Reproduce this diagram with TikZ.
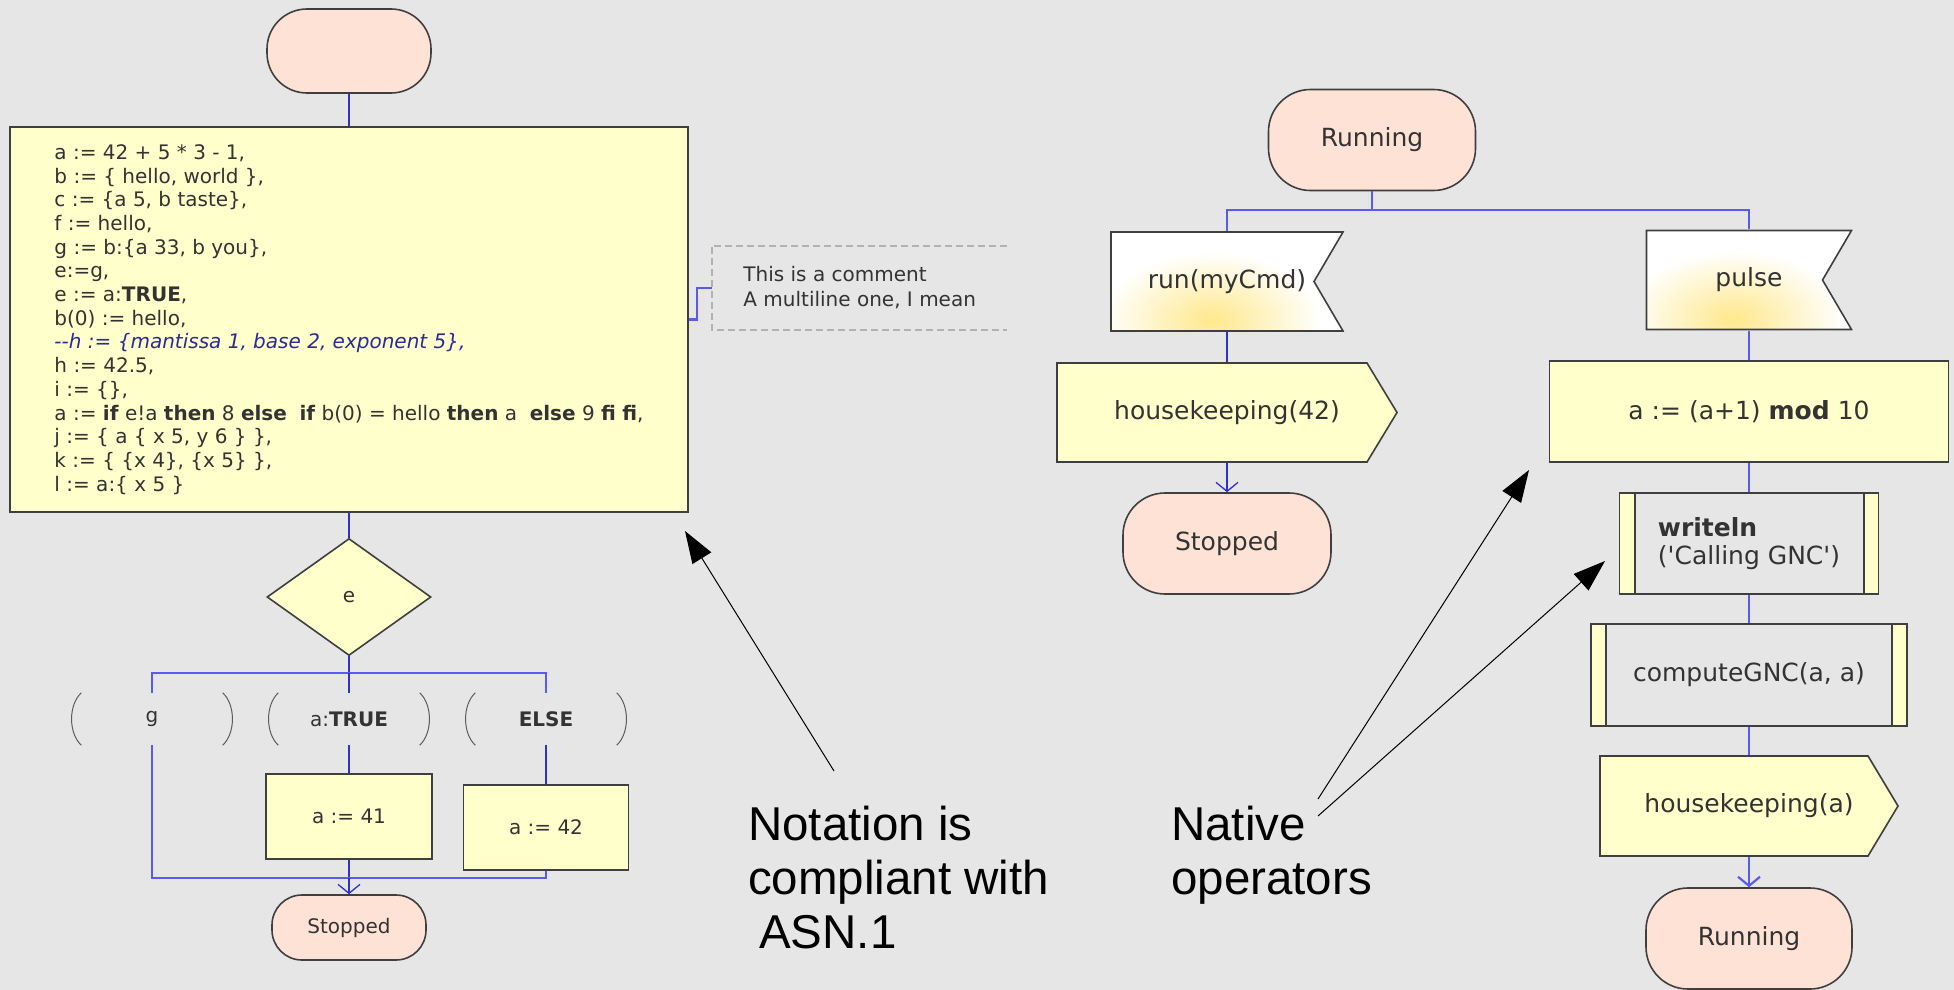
\documentclass[tikz,border=0pt]{standalone}
\usepackage{fontspec}
\setmainfont{DejaVu Sans}
\newfontfamily\notefont{Liberation Sans}
\usetikzlibrary{shapes.geometric,arrows.meta}

\definecolor{bgcol}{HTML}{E6E6E6}
\definecolor{termfill}{HTML}{FFE2D6}
\definecolor{taskfill}{HTML}{FFFFCC}
\definecolor{linegray}{HTML}{3F3F3F}
\definecolor{flowblue}{HTML}{3030D0}
\definecolor{busblue}{HTML}{5A5AEE}
\definecolor{txt}{HTML}{333333}
\definecolor{cmtblue}{HTML}{2A2A9A}
\definecolor{glow}{HTML}{FFE88C}

% outlines of the signal symbols, drawn inside the node box
\newcommand{\inpoly}{([shift={(1pt,-1pt)}]path picture bounding box.north west) -- ([shift={(-1pt,-1pt)}]path picture bounding box.north east) -- ([xshift=-30pt]path picture bounding box.east) -- ([shift={(-1pt,1pt)}]path picture bounding box.south east) -- ([shift={(1pt,1pt)}]path picture bounding box.south west) -- cycle}
\newcommand{\outpoly}{([shift={(1pt,-1pt)}]path picture bounding box.north west) -- ([shift={(-31pt,-1pt)}]path picture bounding box.north east) -- ([xshift=-1pt]path picture bounding box.east) -- ([shift={(-31pt,1pt)}]path picture bounding box.south east) -- ([shift={(1pt,1pt)}]path picture bounding box.south west) -- cycle}

\begin{document}
\begin{tikzpicture}[x=1pt, y=-1pt]

	% Styles for the symbols
	\tikzstyle{terminal}=[
	rectangle,
	draw=linegray,
	line width=1.6pt,
	fill=termfill,
	rounded corners=42pt,
	minimum width=207pt,
	minimum height=101pt,
	text=txt,
	font=\fontsize{25}{28}\selectfont
	]
	\tikzstyle{task}=[rectangle, draw=linegray, line width=1.6pt, fill=taskfill,
	minimum height=101pt, text=txt, font=\fontsize{25}{28}\selectfont]
	\tikzstyle{insignal}=[rectangle, minimum height=101pt, text=txt,
	font=\fontsize{25}{28}\selectfont,
	path picture={
		\begin{scope}
			\clip \inpoly;
			\fill[white] (path picture bounding box.south west) rectangle (path picture bounding box.north east);
			\shade[inner color=glow, outer color=white] ([xshift=-15pt, yshift=12pt]path picture bounding box.south) ellipse (110pt and 68pt);
		\end{scope}
		\draw[linegray, line width=1.6pt] \inpoly;
	}]
	\tikzstyle{outsignal}=[rectangle, minimum height=101pt, text=txt,
	font=\fontsize{25}{28}\selectfont,
	path picture={\filldraw[fill=taskfill, draw=linegray, line width=1.6pt] \outpoly;}]
	\tikzstyle{proc}=[rectangle, draw=linegray, line width=1.6pt, fill=taskfill,
	minimum height=101pt, text=txt, font=\fontsize{25}{28}\selectfont,
	path picture={
		\fill[bgcol] ([xshift=15pt]path picture bounding box.south west) rectangle ([xshift=-15pt]path picture bounding box.north east);
		\draw[linegray, line width=2pt] ([xshift=15pt]path picture bounding box.south west) -- ([xshift=15pt]path picture bounding box.north west);
		\draw[linegray, line width=2pt] ([xshift=-15pt]path picture bounding box.south east) -- ([xshift=-15pt]path picture bounding box.north east);
	}]
	\tikzstyle{decision}=[diamond, draw=linegray, line width=1.6pt, fill=taskfill,
	minimum width=164pt, minimum height=117pt, inner sep=0pt, text=txt]
	\tikzstyle{answer}=[rectangle, minimum width=165pt, minimum height=52pt, text=txt]
	\tikzstyle{small}=[font=\fontsize{20}{23.7}\selectfont]
	\tikzstyle{comment}=[rectangle, align=left, inner xsep=31pt, minimum width=295pt,
	minimum height=84pt, text=txt, font=\fontsize{20}{25}\selectfont]
	\tikzstyle{note}=[align=left, inner sep=0pt, text=black,
	font=\notefont\fontsize{47.5}{54}\selectfont]
	\tikzstyle{flow}=[draw=flowblue, line width=1.3pt]
	\tikzstyle{bus}=[draw=busblue, line width=2.2pt]
	\tikzstyle{pointer}=[black, line width=1pt, -{Triangle[length=32pt, width=22pt]}]

	\useasboundingbox (0, 0) rectangle (1954, 990);
	\fill[bgcol] (0, 0) rectangle (1954, 990);

	% --- Left chart ---
	\node[terminal, small, minimum width=164pt, minimum height=84pt, rounded corners=40pt] (start) at (349, 51) {};
	\node[task, small, minimum width=678pt, minimum height=385pt, align=left] (tasks) at (349, 319.5) {%
		a := 42 + 5 * 3 - 1,\\
		b := \{ hello, world \},\\
		c := \{a 5, b taste\},\\
		f := hello,\\
		g := b:\{a 33, b you\},\\
		e:=g,\\
		e := a:\textbf{TRUE},\\
		b(0) := hello,\\
		{\color{cmtblue}\itshape -{}-h := \{mantissa 1, base 2, exponent 5\},}\\
		h := 42.5,\\
		i := \{\},\\
		a := \textbf{if} e!a \textbf{then} 8 \textbf{else}\ \ \textbf{if} b(0) = hello \textbf{then} a\ \ \textbf{else} 9 \textbf{fi} \textbf{fi},\\
		j := \{ a \{ x 5, y 6 \} \},\\
		k := \{ \{x 4\}, \{x 5\} \},\\
		l := a:\{ x 5 \}};
	\node[comment, anchor=west] (cmt) at (712, 288) {This is a comment\\A multiline one, I mean};
	\node[decision, small] (decision) at (349, 597) {e};

	% --- Answers ---
	\node[answer, small] (ansG) at (152, 719) {g};
	\node[answer, small] (ansTrue) at (349, 719) {a:\textbf{TRUE}};
	\node[answer, small] (ansElse) at (546, 719) {\textbf{ELSE}};
	\node[task, small, minimum width=166pt, minimum height=85pt] (box41) at (349, 816.5) {a := 41};
	\node[task, small, minimum width=165pt, minimum height=85pt] (box42) at (546, 827.5) {a := 42};
	\node[terminal, small, minimum width=154pt, minimum height=65pt, rounded corners=30pt] (stopL) at (349, 927.5) {Stopped};

	\coordinate (splitL) at (349, 673);
	\coordinate (joinL) at (349, 878);
	\draw[flow] (start) -- (tasks);
	\draw[flow] (tasks) -- (decision);
	\draw[bus] (tasks.east) -- ++(8, 0) |- (cmt.west);
	\draw[dash pattern=on 7pt off 4pt, line width=2.5pt, draw=black!30] (cmt.north east) -- (cmt.north west) -- (cmt.south west) -- (cmt.south east);
	\draw[flow] (decision) -- (splitL);
	\draw[bus] (ansG.north) |- (splitL) -| (ansElse.north);
	\draw[flow] (splitL) -- (ansTrue);
	\draw[flow] (ansTrue) -- (box41);
	\draw[flow] (ansElse) -- (box42);
	\draw[flow] (box41) -- (joinL);
	\draw[bus] (ansG.south) |- (joinL);
	\draw[bus] (box42.south) |- (joinL);
	\draw[flow, -{Straight Barb[length=9pt, width=22pt]}] (joinL) -- (stopL);
	\foreach \ans in {ansG, ansTrue, ansElse}{
		\draw[linegray!85, line width=1pt] ([xshift=12pt]\ans.north west) .. controls ([xshift=-1pt, yshift=-12pt]\ans.north west) and ([xshift=-1pt, yshift=12pt]\ans.south west) .. ([xshift=12pt]\ans.south west);
		\draw[linegray!85, line width=1pt] ([xshift=-12pt]\ans.north east) .. controls ([xshift=1pt, yshift=-12pt]\ans.north east) and ([xshift=1pt, yshift=12pt]\ans.south east) .. ([xshift=-12pt]\ans.south east);
	}

	% --- Right chart ---
	\node[terminal] (runTop) at (1372, 140) {Running};
	\node[insignal, minimum width=234pt] (sigRun) at (1227, 281.5) {run(myCmd)};
	\node[insignal, minimum width=207pt] (sigPulse) at (1749, 280) {pulse};
	\node[outsignal, minimum width=342pt] (outHk42) at (1227, 412.5) {housekeeping(42)};
	\node[task, minimum width=399pt] (taskMod) at (1749, 411.5) {a := (a+1) \textbf{mod} 10};
	\node[terminal, minimum width=208pt] (stopR) at (1227, 543.5) {Stopped};
	\node[proc, minimum width=259pt, align=left] (procWrite) at (1749, 543.5) {\textbf{writeln}\\(\textquotesingle Calling GNC\textquotesingle)};
	\node[proc, minimum width=316pt, minimum height=102pt] (procGnc) at (1749, 675) {computeGNC(a, a)};
	\node[outsignal, minimum width=300pt, minimum height=102pt] (outHkA) at (1749, 806) {housekeeping(a)};
	\node[terminal, minimum width=206pt] (runBot) at (1749, 938.5) {Running};

	\coordinate (splitR) at (1372, 210);
	\draw[bus] (runTop) -- (splitR);
	\draw[bus] (sigRun.north) |- (splitR) -| (sigPulse.north);
	\draw[flow] (sigRun) -- (outHk42);
	\draw[flow, -{Straight Barb[length=9pt, width=22pt]}] (outHk42) -- (stopR);
	\draw[bus] (sigPulse) -- (taskMod);
	\draw[bus] (taskMod) -- (procWrite);
	\draw[bus] (procWrite) -- (procGnc);
	\draw[bus] (procGnc) -- (outHkA);
	\draw[bus, -{Straight Barb[length=9pt, width=22pt]}] (outHkA) -- (runBot);

	% --- Notes ---
	\node[note, anchor=north west] (noteAsn) at (748, 806) {Notation is\\compliant with\\\hspace*{11pt}ASN.1};
	\node[note, anchor=north west] (noteOps) at (1171, 806) {Native\\operators};
	\coordinate (asnTail) at (834, 771);
	\coordinate (asnTip) at (685, 531);
	\coordinate (opsTail1) at (1318, 799);
	\coordinate (opsTip1) at (1529, 470);
	\coordinate (opsTail2) at (1318, 816);
	\coordinate (opsTip2) at (1605, 561);
	\draw[pointer] (asnTail) -- (asnTip);
	\draw[pointer] (opsTail1) -- (opsTip1);
	\draw[pointer] (opsTail2) -- (opsTip2);
\end{tikzpicture}
\end{document}
